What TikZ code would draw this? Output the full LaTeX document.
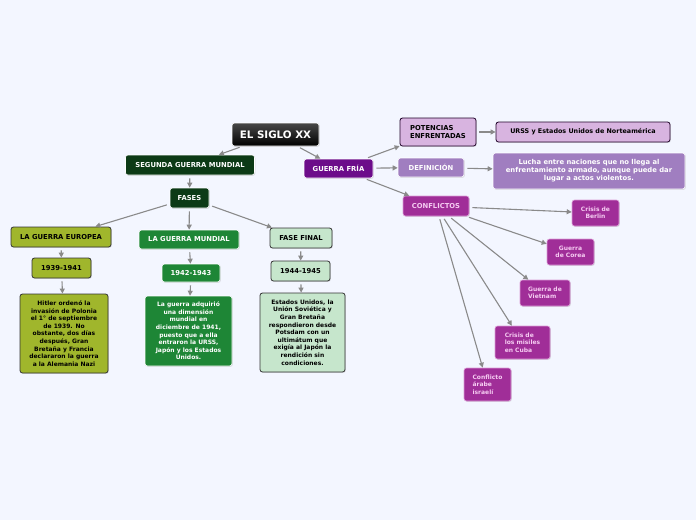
\documentclass[tikz,border=0pt]{standalone}
\usepackage{fontspec}
\setmainfont{DejaVu Sans}
\usetikzlibrary{arrows.meta,shadows}

\definecolor{fondo}{RGB}{243,246,255}
\definecolor{gris}{RGB}{138,138,138}
\definecolor{verdeosc}{RGB}{12,58,22}
\definecolor{oliva}{RGB}{160,182,44}
\definecolor{verdemed}{RGB}{30,134,54}
\definecolor{verdeclaro}{RGB}{198,230,204}
\definecolor{morado}{RGB}{108,12,138}
\definecolor{lila}{RGB}{216,180,224}
\definecolor{lilamed}{RGB}{160,126,192}
\definecolor{magenta}{RGB}{160,46,152}
\definecolor{rosa}{RGB}{246,204,242}

\begin{document}
\begin{tikzpicture}[
x=1pt, y=-1pt,
>={Triangle[length=5pt,width=5pt]},
every node/.style={font=\bfseries\fontsize{6.8}{7.5}\selectfont,
  rounded corners=2.5pt, inner sep=2pt, align=center},
caja/.style={drop shadow={opacity=0.25, shadow xshift=0.8pt, shadow yshift=-0.8pt}},
oscura/.style={caja, draw=white, line width=0.6pt, text=white},
clara/.style={caja, draw=black!80, line width=0.8pt, text=black},
hoja/.style={caja, draw=rosa!70!magenta, line width=0.6pt, fill=magenta,
  text=rosa, font=\bfseries\fontsize{6}{7.5}\selectfont},
texto/.style={font=\bfseries\fontsize{6}{7.6}\selectfont},
flecha/.style={->, draw=gris, line width=1.1pt, shorten <=3pt}
]

\fill[fondo] (0,0) rectangle (696,520);

% tema central
\node[oscura, top color=black!72, bottom color=black,
font=\bfseries\fontsize{10.3}{12}\selectfont,
minimum width=87pt, minimum height=23pt] (siglo) at (275.5,134.5)
{EL SIGLO XX};

% segunda guerra mundial
\node[oscura, fill=verdeosc,
minimum width=129pt, minimum height=20pt] (sgm) at (190,165)
{SEGUNDA GUERRA MUNDIAL};

\node[oscura, fill=verdeosc,
minimum width=39pt, minimum height=20pt] (fases) at (189.5,198)
{FASES};

\node[clara, fill=oliva,
minimum width=100pt, minimum height=20pt] (europea) at (61,237)
{LA GUERRA EUROPEA};

\node[oscura, fill=verdemed,
minimum width=100pt, minimum height=19pt] (mundial) at (189,239.5)
{LA GUERRA MUNDIAL};

\node[clara, fill=verdeclaro,
minimum width=62pt, minimum height=20pt] (final) at (301,238)
{FASE FINAL};

\node[clara, fill=oliva,
minimum width=59pt, minimum height=20pt] (ano1) at (61.5,268)
{1939-1941};

\node[oscura, fill=verdemed,
minimum width=58pt, minimum height=18pt] (ano2) at (191,273)
{1942-1943};

\node[clara, fill=verdeclaro,
minimum width=59pt, minimum height=20pt] (ano3) at (300.5,271)
{1944-1945};

\node[clara, texto, fill=oliva,
minimum width=88pt, minimum height=79pt] (hitler) at (64,333.5)
{Hitler ordenó la\\invasión de Polonia\\el 1° de septiembre\\de 1939. No\\obstante, dos días\\después, Gran\\Bretaña y Francia\\declararon la guerra\\a la Alemania Nazi};

\node[oscura, texto, fill=verdemed,
minimum width=87pt, minimum height=70pt] (adquirio) at (188.5,331)
{La guerra adquirió\\una dimensión\\mundial en\\diciembre de 1941,\\puesto que a ella\\entraron la URSS,\\Japón y los Estados\\Unidos.};

\node[clara, texto, fill=verdeclaro,
minimum width=85pt, minimum height=79pt] (potsdam) at (302.5,332.5)
{Estados Unidos, la\\Unión Soviética y\\Gran Bretaña\\respondieron desde\\Potsdam con un\\ultimátum que\\exigía al Japón la\\rendición sin\\condiciones.};

% guerra fria
\node[oscura, fill=morado,
minimum width=69pt, minimum height=19pt] (fria) at (338.5,168.5)
{GUERRA FRÍA};

\node[clara, fill=lila, draw=black!70!morado, align=left,
minimum width=76pt, minimum height=28pt] (potencias) at (438,132)
{POTENCIAS\\ENFRENTADAS};

\node[clara, fill=lila, draw=black!70!morado,
font=\bfseries\fontsize{6.4}{7.5}\selectfont,
minimum width=174pt, minimum height=20pt] (urss) at (583,132)
{URSS y Estados Unidos de Norteamérica};

\node[oscura, fill=lilamed,
minimum width=66pt, minimum height=19pt] (definicion) at (431,167.5)
{DEFINICIÓN};

\node[oscura, fill=lilamed,
font=\bfseries\fontsize{6.8}{8}\selectfont,
minimum width=192pt, minimum height=36pt] (lucha) at (589,171)
{Lucha entre naciones que no llega al\\enfrentamiento armado, aunque puede dar\\lugar a actos violentos.};

\node[hoja, font=\bfseries\fontsize{6.8}{7.5}\selectfont,
minimum width=66pt, minimum height=20pt] (conflictos) at (436,206)
{CONFLICTOS};

\node[hoja, minimum width=47pt, minimum height=26pt] (berlin) at (595.5,213)
{Crisis de\\Berlin};

\node[hoja, minimum width=47pt, minimum height=26pt] (corea) at (570.5,252)
{Guerra\\de Corea};

\node[hoja, align=left, minimum width=50pt, minimum height=26pt] (vietnam) at (545,293)
{Guerra de\\Vietnam};

\node[hoja, align=left, minimum width=55pt, minimum height=33pt] (cuba) at (522.5,342.5)
{Crisis de\\los misiles\\en Cuba};

\node[hoja, align=left, minimum width=47pt, minimum height=33pt] (arabe) at (487.5,384.5)
{Conflicto\\árabe\\israelí};

\draw[flecha] (siglo) -- (sgm);
\draw[flecha] (siglo) -- (fria);
\draw[flecha] (sgm) -- (fases);
\draw[flecha] (fases) -- (europea);
\draw[flecha] (fases) -- (mundial);
\draw[flecha] (fases) -- (final);
\draw[flecha] (europea) -- (ano1);
\draw[flecha] (mundial) -- (ano2);
\draw[flecha] (final) -- (ano3);
\draw[flecha] (ano1) -- (hitler);
\draw[flecha] (ano2) -- (adquirio);
\draw[flecha] (ano3) -- (potsdam);
\draw[flecha] (fria) -- (potencias);
\draw[flecha] (fria) -- (definicion);
\draw[flecha] (fria) -- (conflictos);
\draw[flecha] (potencias) -- (urss);
\draw[flecha] (definicion) -- (lucha);
\draw[flecha] (conflictos) -- (berlin);
\draw[flecha] (conflictos) -- (corea);
\draw[flecha] (conflictos) -- (vietnam);
\draw[flecha] (conflictos) -- (cuba);
\draw[flecha] (conflictos) -- (arabe);

\end{tikzpicture}
\end{document}
